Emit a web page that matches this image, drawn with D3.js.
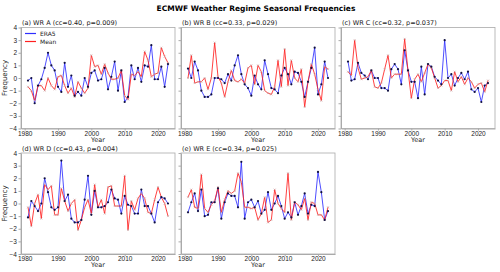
<!DOCTYPE html>
<html>
<head>
<meta charset="utf-8">
<script src="https://cdn.jsdelivr.net/npm/d3@7"></script>
<style>
  body { margin: 0; background: #fff; }
  svg { display: block; font-family: "DejaVu Sans", sans-serif; }
  .axis path, .axis line { stroke: #aaa; }
  .axis text { fill: #222; font-size: 6.5px; }
</style>
</head>
<body>
<div id="chart"></div>
<script>
// years 1981..2023
const years = d3.range(1981, 2024);

const eraA = [-0.2, 0.0, -2.0, -0.6, -0.1, 0.8, 2.0, 1.0, 0.6, -0.7, -1.1, 1.2, -0.7, 0.2, -1.4, -1.1, -1.4, 0.0, -0.7, 0.4, 0.6, -0.2, -0.1, 0.8, -0.9, 0.1, 1.3, -1.0, 0.6, -1.9, -1.5, 1.0, -0.1, 0.8, -0.3, 1.0, 0.9, 2.6, -0.1, -0.1, 0.9, -0.7, 1.1];
const meanA = [-0.7, -1.0, -1.8, -0.6, -0.6, -1.0, 0.0, -0.6, -0.9, 0.1, 0.2, -0.6, -1.2, -0.8, -1.5, -0.3, -0.8, -1.2, -0.8, 1.8, 0.9, 1.0, 0.3, 1.1, 0.4, -0.1, -0.1, 0.0, 0.6, -1.4, -1.7, 0.3, 0.2, 0.5, 0.1, 2.1, 1.4, 0.1, 0.3, 0.4, 2.4, 1.7, 1.2];

const eraB = [0.75, 0.0, 1.3, 0.6, -1.0, -1.5, -1.5, -1.3, 0.0, 0.0, -0.1, -0.4, 0.3, -0.2, 1.0, 1.8, 0.3, -0.5, -0.8, -1.4, 0.2, -0.5, -0.9, 1.4, 0.3, -0.8, -0.9, -1.2, 0.2, 0.8, 0.3, -0.5, 0.5, 0.4, -0.3, -1.5, -0.3, 0.8, 2.4, -1.3, -0.5, 1.3, 0.0];
const meanB = [0.0, 1.8, -0.4, -0.3, -0.3, 0.0, -0.9, 0.0, 2.8, 0.1, -0.4, -1.5, -0.3, 0.6, -0.2, -0.3, -0.1, -0.4, 0.8, 1.0, -0.5, 1.0, 0.5, -1.0, -1.2, -1.3, -0.7, 1.4, -0.7, 2.3, -0.6, 1.4, 0.0, -0.3, 0.7, -2.3, -0.3, 1.1, 0.3, -0.9, -1.8, 0.9, 0.7];

const eraC = [1.3, -0.2, -0.1, 1.2, 0.4, 0.2, -0.1, 0.6, 0.0, 0.0, -0.8, -0.8, -1.0, 0.7, 1.1, 0.7, -0.5, 2.2, 0.6, -0.3, -0.3, -1.6, 0.9, -1.3, 1.1, 0.9, 0.1, -0.2, -0.5, 3.0, 0.0, 0.3, -0.6, 0.0, 0.4, -0.1, 0.5, -0.9, -1.1, -0.8, -1.9, -0.6, -0.4];
const meanC = [0.5, 0.2, 3.0, 0.8, -0.1, 0.0, 0.1, 0.6, -0.7, -0.8, -0.4, 0.7, 1.8, 0.0, 0.3, 0.3, 0.3, 3.1, 0.6, -1.6, -0.1, 0.3, -0.3, 0.4, 1.1, 0.8, 0.0, -0.8, -0.6, -0.2, -0.2, -1.0, 0.5, -0.3, 0.1, -0.5, 0.0, -0.3, -0.8, -0.5, -0.4, -1.1, -0.2];

const eraD = [-1.1, 0.2, -0.2, -0.6, 0.0, 2.0, 0.9, -0.3, -0.5, -0.3, 3.4, 0.2, 0.7, -1.2, -1.5, -1.5, -1.3, 0.3, 2.2, -0.9, 1.0, -0.3, -0.3, -0.2, 0.1, 1.1, 0.4, 0.3, -0.8, 0.6, -0.1, -0.2, -0.8, -0.8, 1.1, -0.2, -0.2, -0.8, -1.5, 0.1, 0.5, 0.4, 0.0];
const meanD = [-0.3, -1.8, 0.0, 0.7, -1.2, 1.5, 1.1, 1.4, -0.9, -0.9, 1.2, 0.2, -0.6, 0.0, 0.3, -2.1, -1.3, -0.3, 0.3, -0.8, 1.5, -0.3, 0.3, -0.8, 1.3, 1.4, -0.2, -0.2, -0.2, 2.2, -2.1, 0.2, -0.5, 0.4, 0.8, 0.4, -0.7, -0.8, 0.3, 1.3, 0.5, 0.0, -1.0];

const eraE = [-0.7, 0.1, 0.8, -0.6, 1.1, -1.0, -0.9, 0.1, 0.1, 1.2, -1.2, 0.1, 0.8, 0.6, 0.6, -0.3, 3.3, -1.2, 0.1, 0.3, -0.3, 0.2, -0.8, -0.5, 0.9, -0.5, 0.0, 0.6, -0.2, -1.2, -0.7, -1.1, 0.1, -0.9, -0.2, 0.8, -0.8, -0.1, -0.2, 2.5, 0.9, -1.3, -0.6];
const meanE = [0.5, 1.1, -0.3, -0.4, 2.3, -0.4, -0.7, -0.1, 0.2, 1.3, -0.7, 0.3, 1.0, 0.8, 1.0, 2.4, 1.7, -0.3, -0.3, -0.4, -0.3, -1.3, -0.8, 0.5, -1.5, -1.3, 1.1, 0.0, -0.4, -0.7, 2.4, -1.3, 0.1, -0.1, -0.5, 0.4, -1.3, 0.1, 0.0, -0.9, -0.9, -1.3, -0.3];

const panelTitles = ['(a) WR A (cc=0.40, p=0.009)', '(b) WR B (cc=0.33, p=0.029)', '(c) WR C (cc=0.32, p=0.037)',
    '(d) WR D (cc=0.43, p=0.004)', '(e) WR E (cc=0.34, p=0.025)'];
const xTicks = [1980, 1990, 2000, 2010, 2020];
const yTicks = [-4, -3, -2, -1, 0, 1, 2, 3, 4];

const width = 500, height = 272;
const colLeft = [21, 181, 341];
const rowTop = [27.5, 153];
const panelW = 154, panelH = 101;
const eraColor = '#2f2fff', meanColor = '#ff2020';

const panels = [
    { title: panelTitles[0], era: eraA, mean: meanA, col: 0, row: 0, legend: true },
    { title: panelTitles[1], era: eraB, mean: meanB, col: 1, row: 0 },
    { title: panelTitles[2], era: eraC, mean: meanC, col: 2, row: 0 },
    { title: panelTitles[3], era: eraD, mean: meanD, col: 0, row: 1 },
    { title: panelTitles[4], era: eraE, mean: meanE, col: 1, row: 1 }
];

const svg = d3.select('#chart').append('svg')
    .attr('width', width)
    .attr('height', height);

svg.append('text')
    .attr('x', 256)
    .attr('y', 11)
    .attr('text-anchor', 'middle')
    .style('font-size', '7.5px')
    .style('font-weight', 'bold')
    .text('ECMWF Weather Regime Seasonal Frequencies');

// matplotlib-like 5% margins around 1981..2023
const xScale = d3.scaleLinear()
    .domain([1981 - 2.1, 2023 + 2.1])
    .range([0, panelW]);

const yScale = d3.scaleLinear()
    .domain([-4, 4])
    .range([panelH, 0]);

const line = d3.line()
    .x((d, i) => xScale(years[i]))
    .y(d => yScale(d));

panels.forEach(p => {
    const g = svg.append('g')
        .attr('transform', `translate(${colLeft[p.col]},${rowTop[p.row]})`);

    const xAxis = d3.axisBottom(xScale)
        .tickValues(xTicks)
        .tickFormat(d3.format('d'))
        .tickSize(2)
        .tickPadding(0.5)
        .tickSizeOuter(0);

    g.append('g')
        .attr('class', 'axis')
        .attr('transform', `translate(0,${panelH})`)
        .call(xAxis);

    const yAxis = d3.axisLeft(yScale)
        .tickValues(yTicks)
        .tickFormat(p.col === 0 ? (d => d3.format('d')(d).replace('-', '\u2212')) : '')
        .tickSize(2.5)
        .tickPadding(1.5)
        .tickSizeOuter(0);

    g.append('g')
        .attr('class', 'axis')
        .call(yAxis);

    // frame
    g.append('rect')
        .attr('width', panelW)
        .attr('height', panelH)
        .attr('fill', 'none')
        .attr('stroke', '#aaa')
        .attr('stroke-width', 0.8);

    g.append('text')
        .attr('x', 1)
        .attr('y', -2.5)
        .style('font-size', '6.5px')
        .style('fill', '#222')
        .text(p.title);

    g.append('text')
        .attr('x', panelW / 2)
        .attr('y', panelH + 13.2)
        .attr('text-anchor', 'middle')
        .style('font-size', '6.5px')
        .style('fill', '#222')
        .text('Year');

    if (p.col === 0) {
        g.append('text')
            .attr('transform', `translate(-14,${panelH / 2}) rotate(-90)`)
            .attr('text-anchor', 'middle')
            .style('font-size', '7px')
            .style('fill', '#222')
            .text('Frequency');
    }

    g.append('path')
        .datum(p.era)
        .attr('fill', 'none')
        .attr('stroke', eraColor)
        .attr('stroke-width', 1)
        .attr('opacity', 0.85)
        .attr('d', line);

    g.append('path')
        .datum(p.mean)
        .attr('fill', 'none')
        .attr('stroke', meanColor)
        .attr('stroke-width', 1)
        .attr('opacity', 0.85)
        .attr('d', line);

    // mean markers: small light crosses
    g.selectAll('.mx')
        .data(p.mean)
        .enter()
        .append('path')
        .attr('class', 'mx')
        .attr('transform', (d, i) => `translate(${xScale(years[i])},${yScale(d)})`)
        .attr('d', 'M-1,-1L1,1M-1,1L1,-1')
        .attr('stroke', '#c9a0a0')
        .attr('stroke-width', 0.6);

    // era5 markers: dark dots
    g.selectAll('.dot')
        .data(p.era)
        .enter()
        .append('circle')
        .attr('class', 'dot')
        .attr('cx', (d, i) => xScale(years[i]))
        .attr('cy', d => yScale(d))
        .attr('r', 1.1)
        .attr('fill', '#101040');

    if (p.legend) {
        const lg = g.append('g').attr('transform', 'translate(4,6)');
        [['ERA5', eraColor], ['Mean', meanColor]].forEach((item, i) => {
            lg.append('line')
                .attr('x1', 0).attr('x2', 11)
                .attr('y1', i * 8).attr('y2', i * 8)
                .attr('stroke', item[1])
                .attr('stroke-width', 1.2);
            lg.append('text')
                .attr('x', 15)
                .attr('y', i * 8 + 2.3)
                .style('font-size', '6px')
                .style('fill', '#222')
                .text(item[0]);
        });
    }
});
</script>
</body>
</html>
